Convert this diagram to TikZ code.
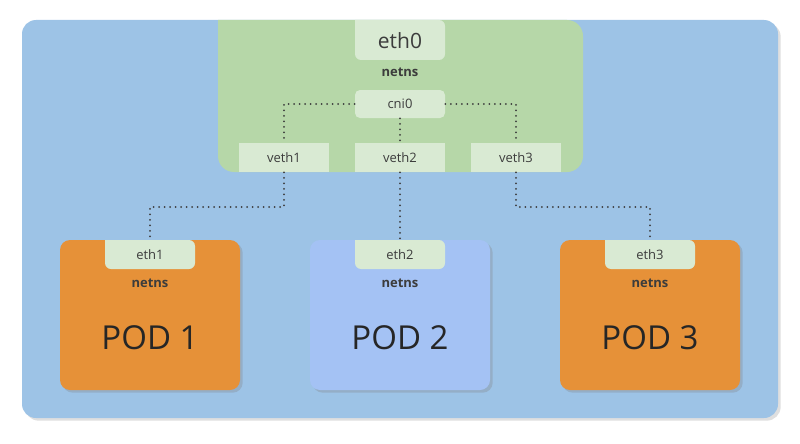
\documentclass[tikz,border=0pt]{standalone}
\usepackage{fontspec}
\setmainfont{Open Sans}
\usetikzlibrary{positioning,shadows}
\definecolor{hostbg}{RGB}{157,195,230}
\definecolor{nsgreen}{RGB}{182,215,168}
\definecolor{tabgreen}{RGB}{217,234,211}
\definecolor{podorange}{RGB}{230,145,56}
\definecolor{podblue}{RGB}{164,194,244}
\definecolor{txt}{RGB}{60,60,60}
\tikzset{every picture/.style={line width=0.75pt}}
\tikzset{
  tab/.style={fill=tabgreen, draw=none, minimum width=90pt, minimum height=29pt, inner sep=0pt, text=txt, font=\fontsize{13}{14}\selectfont},
  nslabel/.style={text=txt, font=\bfseries\fontsize{13}{14}\selectfont},
  podlabel/.style={text=black!85, font=\fontsize{33}{35}\selectfont},
  link/.style={draw=txt, line width=2pt, dash pattern=on 0pt off 5.5pt, line cap=round},
}
\begin{document}
\begin{tikzpicture}[x=1pt,y=-1pt]
	\useasboundingbox (0,0) rectangle (800,444);

	%host background
	\fill [hostbg, rounded corners=14pt, drop shadow={opacity=0.25}] (22,20) rectangle (778,418);
	%host netns
	\fill [nsgreen, rounded corners=16pt] (218,20) -- (218,172) -- (583,172) -- (583,20) [sharp corners] -- cycle;
	\fill [tabgreen, rounded corners=6pt] (355,20) -- (355,60) -- (445,60) -- (445,20) [sharp corners] -- cycle;
	\node [tab, fill=none, font=\fontsize{21}{23}\selectfont] (eth0) at (400,41) {eth0};
	\node [nslabel] (hostns) at (400,72) {netns};
	\node [tab, rounded corners=5pt, minimum height=28pt] (cni0) at (400,104) {cni0};
	\node [tab] (veth1) at (284,157.5) {veth1};
	\node [tab] (veth2) at (400,157.5) {veth2};
	\node [tab] (veth3) at (516,157.5) {veth3};

	%pods
	\foreach \i/\x/\c in {1/150/podorange, 2/400/podblue, 3/650/podorange}{
		\fill [\c, rounded corners=10pt, drop shadow={opacity=0.3}] (\x-90,240) rectangle (\x+90,390);
		\fill [tabgreen, rounded corners=6pt] (\x-45,240) -- (\x-45,269) -- (\x+45,269) -- (\x+45,240) [sharp corners] -- cycle;
		\node [tab, fill=none] (eth\i) at (\x,255) {eth\i};
		\node [nslabel] (podns\i) at (\x,283) {netns};
		\node [podlabel] (pod\i) at (\x,338) {POD \i};
	}

	%veth links
	\coordinate (c1) at (284,104);
	\coordinate (c3) at (516,104);
	\draw [link] (cni0.west) -- (c1) -- (veth1.north);
	\draw [link] (cni0.east) -- (c3) -- (veth3.north);
	\draw [link] (cni0.south) -- (veth2.north);
	\draw [link] (veth1.south) |- (150,207) -- (eth1.north);
	\draw [link] (veth2.south) -- (eth2.north);
	\draw [link] (veth3.south) |- (650,207) -- (eth3.north);
\end{tikzpicture}
\end{document}
